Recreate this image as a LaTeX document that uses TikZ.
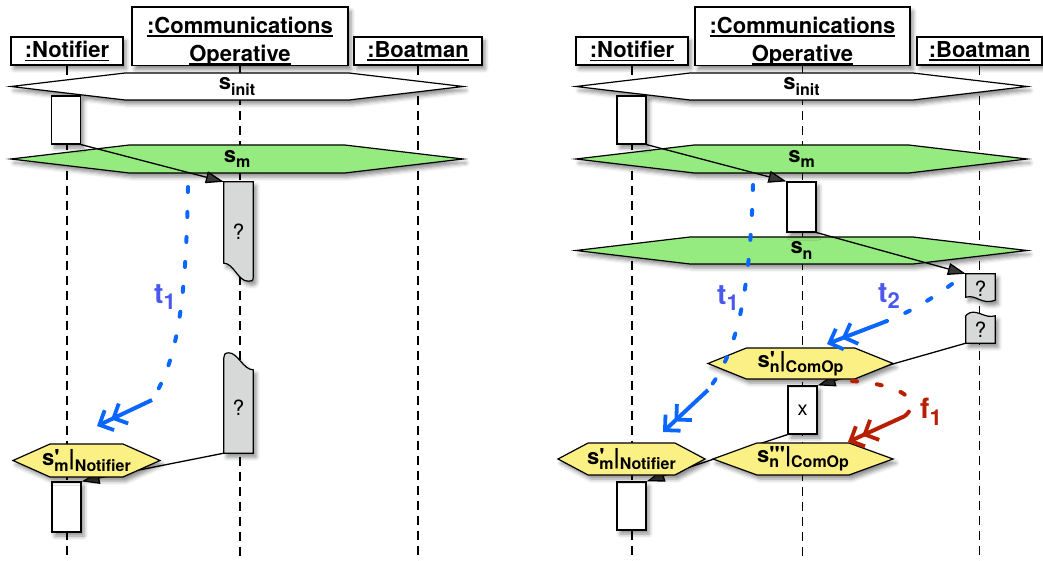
\documentclass[tikz,border=0pt]{standalone}
\usepackage{fontspec}
\newfontfamily\dia{TeX Gyre Heros}
\usetikzlibrary{arrows.meta,shapes.symbols,calc,shadows.blur}

\definecolor{StateGreen}{HTML}{96EB80}
\definecolor{ViewYellow}{HTML}{FBF084}
\definecolor{WaitGrey}{HTML}{D7D8D8}
\definecolor{TransBlue}{HTML}{0A66FF}
\definecolor{TLabelBlue}{HTML}{4A58F0}
\definecolor{FailRed}{HTML}{B81E00}

% lowered index text, s with a mark over its index, underlined object name
\newcommand\lo[2][16]{\raisebox{-0.45ex}{\fontsize{#1}{#1}\selectfont #2}}
\newcommand\stn[2]{s\ooalign{#1\cr\lo{#2}}}
\newsavebox\namebox
\newcommand\objname[1]{\sbox\namebox{#1}\rlap{\rule[-3.5pt]{\wd\namebox}{1.4pt}}\usebox\namebox}

\begin{document}
\begin{tikzpicture}[x=1pt,y=-1pt,
  soft shadow/.style={blur shadow={shadow xshift=3pt,shadow yshift=-4pt,
                      shadow blur radius=4pt,shadow opacity=45}},
  obj/.style={rectangle,draw,fill=white,line width=1.2pt,inner sep=0pt,
              minimum height=28,align=center,soft shadow,
              font=\dia\bfseries\fontsize{22}{28}\selectfont},
  state/.style={signal,signal to=west and east,draw,line width=1.2pt,
                inner sep=0pt,soft shadow},
  big/.style={state,minimum width=452,minimum height=27,signal pointer angle=13.5},
  view/.style={state,fill=ViewYellow,minimum height=32},
  stxt/.style={font=\dia\bfseries\fontsize{22}{24}\selectfont},
  act/.style={rectangle,draw,fill=white,line width=1.2pt,inner sep=0pt,
              minimum width=29,minimum height=48,soft shadow,
              font=\dia\fontsize{20}{22}\selectfont},
  wait/.style={rectangle,inner sep=0pt,minimum width=29},
  qmark/.style={font=\dia\fontsize{21}{22}\selectfont},
  torn/.style={draw,fill=WaitGrey,line width=1.2pt,soft shadow},
  lifeline/.style={line width=1.1pt,dash pattern=on 9pt off 6pt},
  msg/.style={line width=1.3pt,-{Triangle[length=18pt,width=12pt]}},
  trans/.style={line width=4pt,line cap=round,dash pattern=on 5pt off 20pt},
  transtip/.style={line width=4pt,
    -{Straight Barb[length=11pt,width=22pt,line width=3.8pt]Straight Barb[length=11pt,width=22pt,line width=3.8pt]}},
  tlab/.style={font=\dia\bfseries\fontsize{28}{30}\selectfont}]

\useasboundingbox (0,0) rectangle (1043,561);
\coordinate (bot) at (0,561);

% objects, left run
\node[obj,minimum width=112] (notL) at (67,51) {\objname{:Notifier}};
\node[obj,minimum width=216,minimum height=57] (comL) at (240,36.5)
  {\rule{0pt}{26pt}\objname{:Communications}\\\objname{Operative}};
\node[obj,minimum width=128] (boatL) at (418,51) {\objname{:Boatman}};
% objects, right run
\node[obj,minimum width=112] (notR) at (632,51) {\objname{:Notifier}};
\node[obj,minimum width=215,minimum height=57] (comR) at (802.5,36.5)
  {\rule{0pt}{26pt}\objname{:Communications}\\\objname{Operative}};
\node[obj,minimum width=125] (boatR) at (979.5,51) {\objname{:Boatman}};

\foreach \p in {notL,comL,boatL,notR,comR,boatR}
  \draw[lifeline] (\p.south) -- (\p.south |- bot);

% global states
\node[big,fill=white,label={[stxt]center:s\lo{init}}] (initL) at (237,86.5) {};
\node[big,fill=StateGreen,minimum height=28,label={[stxt]center:s\lo{m}}] (smL) at (237,159) {};
\node[big,fill=white,minimum width=451,label={[stxt]center:s\lo{init}}] (initR) at (801.5,86.5) {};
\node[big,fill=StateGreen,minimum width=451,minimum height=28,label={[stxt]center:s\lo{m}}] (smR) at (801.5,159) {};
\node[big,fill=StateGreen,minimum width=451,label={[stxt]center:s\lo{n}}] (snR) at (801.5,250.5) {};

% activations
\node[act] (a1L) at (66,120) {};
\node[act,minimum height=50] (a2L) at (66.5,507) {};
\node[act] (a3R) at (631.5,120) {};
\node[act,minimum height=50] (a4R) at (801.5,207) {};
\node[act] (a5R) at (802.5,410) {x};
\node[act] (a6R) at (631.5,506) {};

% waiting boxes with a torn edge
\node[wait,minimum height=99] (q1L) at (238.5,231.5) {};
\node[wait,minimum height=91] (q2L) at (238.5,407.5) {};
\node[wait,minimum height=29] (q3R) at (980.5,288.5) {};
\node[wait,minimum height=27] (q4R) at (980.5,329.5) {};
\draw[torn] (q1L.north west) -- (q1L.north east) -- ($(q1L.south east)+(0,-4)$)
  .. controls ($(q1L.south east)+(0,0)$) and ($(q1L.south east)+(-2,0)$) .. ($(q1L.south east)+(-5,0)$)
  .. controls ($(q1L.south west)+(14,0)$) and ($(q1L.south west)+(10,-18)$) .. ($(q1L.south west)+(0,-18)$)
  -- cycle;
\draw[torn] (q2L.south west) -- (q2L.south east) -- ($(q2L.north east)+(0,8)$)
  .. controls ($(q2L.north east)+(-10,8)$) and ($(q2L.north west)+(14,-9)$) .. ($(q2L.north west)+(5,-9)$)
  .. controls ($(q2L.north west)+(1,-9)$) and ($(q2L.north west)+(0,-7)$) .. ($(q2L.north west)+(0,-4)$)
  -- cycle;
\draw[torn] (q3R.north west) -- (q3R.north east) -- ($(q3R.south east)+(0,-3)$)
  .. controls ($(q3R.south west)+(15,2)$) and ($(q3R.south west)+(11,-9)$) .. ($(q3R.south west)+(0,-6)$)
  -- cycle;
\draw[torn] (q4R.south west) -- (q4R.south east) -- (q4R.north east)
  .. controls ($(q4R.north east)+(-10,3)$) and ($(q4R.north west)+(12,-6)$) .. ($(q4R.north west)+(4,-3)$)
  .. controls ($(q4R.north west)+(1,-2)$) and (q4R.north west) .. (q4R.north west)
  -- cycle;
\foreach \q in {q1L,q2L,q3R,q4R}
  \node[qmark] at (\q) {?};

% messages
\draw[msg] (a1L.south east) -- (q1L.north west);
\draw[msg] (q2L.south west) -- (a2L.north east);
\draw[msg] (a3R.south east) -- (a4R.north west);
\draw[msg] (a4R.south east) -- (q3R.north west);
\draw[msg] (q4R.south west) -- (a5R.north east);
\draw[msg] (a5R.south west) -- (a6R.north east);

% local views
\node[view,minimum width=147,minimum height=33,signal pointer angle=48,
  label={[stxt]center:\stn{'}{m}|\lo{Notifier}}] (vmL) at (86.5,460.5) {};
\node[view,minimum width=147,signal pointer angle=56,
  label={[stxt]center:\stn{'}{m}|\lo{Notifier}}] (vmR) at (631.5,459) {};
\node[view,minimum width=185,minimum height=31,signal pointer angle=44,
  label={[stxt]center:\stn{'}{n}|\lo{ComOp}}] (vnR) at (800.5,363.5) {};
\node[view,minimum width=180,signal pointer angle=40,
  label={[stxt]center:\stn{'''}{n}|\lo{ComOp}}] (vn3R) at (803,459) {};

% transitions
\coordinate (t1La) at (188,187);
\coordinate (t1Lc) at (152,400);
\coordinate (t1Ld) at (97,426);
\draw[trans,TransBlue] (t1La) .. controls (186,300) and (178,360) .. (t1Lc);
\draw[transtip,TransBlue] (t1Lc) -- (t1Ld);
\node[tlab,TLabelBlue] (t1L) at (165,297) {t\lo[22]{1}};

\coordinate (t1Ra) at (753,185);
\coordinate (t1Rc) at (708,390);
\coordinate (t1Rd) at (663,432);
\draw[trans,TransBlue] (t1Ra) .. controls (750,300) and (735,355) .. (t1Rc);
\draw[transtip,TransBlue] (t1Rc) -- (t1Rd);
\node[tlab,TLabelBlue] (t1R) at (728,298) {t\lo[22]{1}};

\coordinate (t2a) at (952,284);
\coordinate (t2c) at (887,321);
\coordinate (t2d) at (827,344);
\draw[trans,TransBlue] (t2a) .. controls (930,300) and (910,312) .. (t2c);
\draw[transtip,TransBlue] (t2c) -- (t2d);
\node[tlab,TLabelBlue] (t2) at (889,296) {t\lo[22]{2}};

\coordinate (f1a) at (852,381);
\coordinate (f1c) at (905,416);
\coordinate (f1d) at (848,442);
\draw[trans,FailRed] (f1a) .. controls (895,384) and (925,398) .. (f1c);
\draw[transtip,FailRed] (f1c) -- (f1d);
\node[tlab,FailRed] (f1) at (931,412) {f\lo[22]{1}};
\end{tikzpicture}
\end{document}
